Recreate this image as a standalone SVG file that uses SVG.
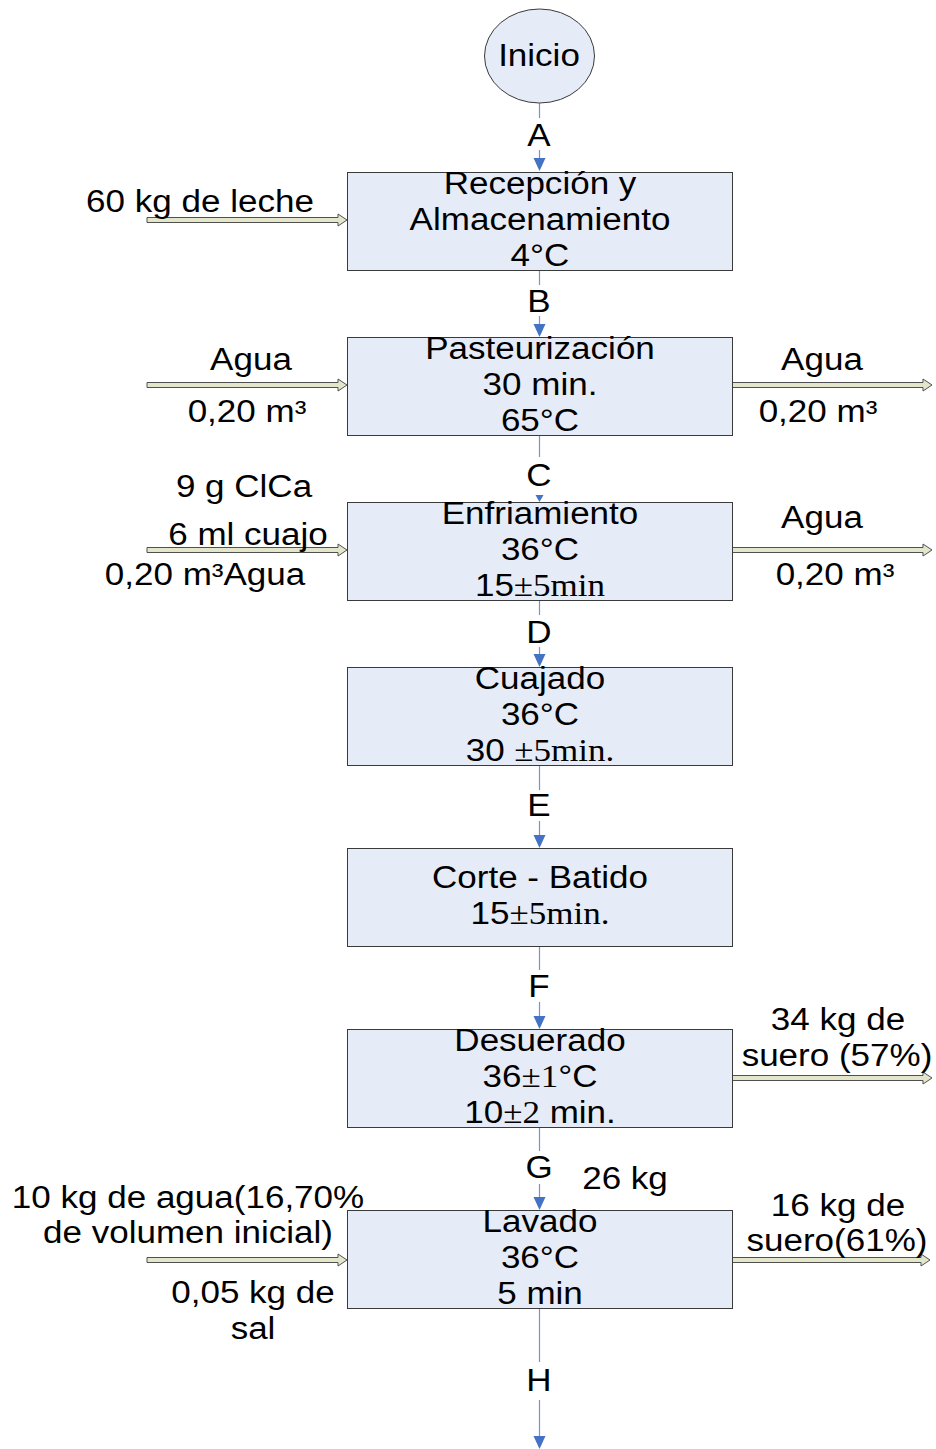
<svg xmlns="http://www.w3.org/2000/svg" width="936" height="1449" viewBox="0 0 936 1449">
<style>
.box{fill:#E6ECF7;stroke:#3a3a3a;stroke-width:1}
.t{font-family:"Liberation Sans",Arial,sans-serif;font-size:31px;fill:#000;text-anchor:middle}
.tl{font-family:"Liberation Sans",Arial,sans-serif;font-size:31px;fill:#000;text-anchor:start}
.s{font-family:"Liberation Serif","Times New Roman",serif}
.ln{stroke:#7095CF;stroke-width:1.2;fill:none}
.ah{fill:#4472C4}
.ba{fill:#E4E6CC;stroke:#505050;stroke-width:1}
</style>
<rect width="936" height="1449" fill="#fff"/>
<g id="connectors">
  <line class="ln" x1="539.5" y1="103" x2="539.5" y2="118"/>
  <line class="ln" x1="539.5" y1="150" x2="539.5" y2="160"/>
  <polygon class="ah" points="533.5,158 545.5,158 539.5,171"/>
  <text class="t" transform="translate(539,146) scale(1.13,1)">A</text>

  <line class="ln" x1="539.5" y1="270" x2="539.5" y2="285"/>
  <line class="ln" x1="539.5" y1="316" x2="539.5" y2="326"/>
  <polygon class="ah" points="533.5,324 545.5,324 539.5,337"/>
  <text class="t" transform="translate(539,312) scale(1.13,1)">B</text>

  <line class="ln" x1="539.5" y1="435" x2="539.5" y2="457"/>
  <polygon class="ah" points="535.5,495 543.5,495 539.5,502"/>
  <text class="t" transform="translate(539,486) scale(1.13,1)">C</text>

  <line class="ln" x1="539.5" y1="600" x2="539.5" y2="615"/>
  <line class="ln" x1="539.5" y1="647" x2="539.5" y2="656"/>
  <polygon class="ah" points="533.5,654 545.5,654 539.5,667"/>
  <text class="t" transform="translate(539,643) scale(1.13,1)">D</text>

  <line class="ln" x1="539.5" y1="765" x2="539.5" y2="790"/>
  <line class="ln" x1="539.5" y1="821" x2="539.5" y2="837"/>
  <polygon class="ah" points="533.5,835 545.5,835 539.5,848"/>
  <text class="t" transform="translate(539,816) scale(1.13,1)">E</text>

  <line class="ln" x1="539.5" y1="946" x2="539.5" y2="970"/>
  <line class="ln" x1="539.5" y1="1002" x2="539.5" y2="1018"/>
  <polygon class="ah" points="533.5,1016 545.5,1016 539.5,1029"/>
  <text class="t" transform="translate(539,997) scale(1.13,1)">F</text>

  <line class="ln" x1="539.5" y1="1127" x2="539.5" y2="1151"/>
  <line class="ln" x1="539.5" y1="1184" x2="539.5" y2="1199"/>
  <polygon class="ah" points="533.5,1197 545.5,1197 539.5,1210"/>
  <text class="t" transform="translate(539,1178) scale(1.13,1)">G</text>

  <line class="ln" x1="539.5" y1="1308" x2="539.5" y2="1362"/>
  <line class="ln" x1="539.5" y1="1400" x2="539.5" y2="1438"/>
  <polygon class="ah" points="533.5,1436 545.5,1436 539.5,1449"/>
  <text class="t" transform="translate(539,1391) scale(1.13,1)">H</text>

  <polygon class="ba" points="147,217.5 338,217.5 338,214 347,220 338,226 338,222.5 147,222.5"/>
  <polygon class="ba" points="147,382.5 338,382.5 338,379 347,385 338,391 338,387.5 147,387.5"/>
  <polygon class="ba" points="732,382.5 923,382.5 923,379 932,385 923,391 923,387.5 732,387.5"/>
  <polygon class="ba" points="147,547.5 338,547.5 338,544 347,550 338,556 338,552.5 147,552.5"/>
  <polygon class="ba" points="732,547.5 923,547.5 923,544 932,550 923,556 923,552.5 732,552.5"/>
  <polygon class="ba" points="732,1075.5 923,1075.5 923,1072 932,1078 923,1084 923,1080.5 732,1080.5"/>
  <polygon class="ba" points="147,1257.5 338,1257.5 338,1254 347,1260 338,1266 338,1262.5 147,1262.5"/>
  <polygon class="ba" points="730,1257.5 921,1257.5 921,1254 930,1260 921,1266 921,1262.5 730,1262.5"/>
</g>
<g id="inicio">
  <ellipse class="box" cx="539.5" cy="56" rx="55" ry="47"/>
  <text class="t" transform="translate(539,66) scale(1.13,1)">Inicio</text>
</g>
<g id="recepcion">
  <rect class="box" x="347.5" y="172.5" width="385" height="98"/>
  <text class="t" transform="translate(540,194) scale(1.13,1)">Recepción y</text>
  <text class="t" transform="translate(540,230) scale(1.13,1)">Almacenamiento</text>
  <text class="t" transform="translate(540,266) scale(1.13,1)">4°C</text>
</g>
<g id="pasteurizacion">
  <rect class="box" x="347.5" y="337.5" width="385" height="98"/>
  <text class="t" transform="translate(540,359) scale(1.13,1)">Pasteurización</text>
  <text class="t" transform="translate(540,395) scale(1.13,1)">30 min.</text>
  <text class="t" transform="translate(540,431) scale(1.13,1)">65°C</text>
</g>
<g id="enfriamiento">
  <rect class="box" x="347.5" y="502.5" width="385" height="98"/>
  <text class="t" transform="translate(540,524) scale(1.13,1)">Enfriamiento</text>
  <text class="t" transform="translate(540,560) scale(1.13,1)">36°C</text>
  <text class="t" transform="translate(540,596) scale(1.13,1)">15<tspan class="s">±5min</tspan></text>
</g>
<g id="cuajado">
  <rect class="box" x="347.5" y="667.5" width="385" height="98"/>
  <text class="t" transform="translate(540,689) scale(1.13,1)">Cuajado</text>
  <text class="t" transform="translate(540,725) scale(1.13,1)">36°C</text>
  <text class="t" transform="translate(540,761) scale(1.13,1)">30 <tspan class="s">±5min.</tspan></text>
</g>
<g id="corte">
  <rect class="box" x="347.5" y="848.5" width="385" height="98"/>
  <text class="t" transform="translate(540,888) scale(1.13,1)">Corte - Batido</text>
  <text class="t" transform="translate(540,924) scale(1.13,1)">15<tspan class="s">±5min.</tspan></text>
</g>
<g id="desuerado">
  <rect class="box" x="347.5" y="1029.5" width="385" height="98"/>
  <text class="t" transform="translate(540,1051) scale(1.13,1)">Desuerado</text>
  <text class="t" transform="translate(540,1087) scale(1.13,1)">36<tspan class="s">±1</tspan>°C</text>
  <text class="t" transform="translate(540,1123) scale(1.13,1)">10<tspan class="s">±2</tspan> min.</text>
</g>
<g id="lavado">
  <rect class="box" x="347.5" y="1210.5" width="385" height="98"/>
  <text class="t" transform="translate(540,1232) scale(1.13,1)">Lavado</text>
  <text class="t" transform="translate(540,1268) scale(1.13,1)">36°C</text>
  <text class="t" transform="translate(540,1304) scale(1.13,1)">5 min</text>
</g>
<g id="labels">
  <text class="t" transform="translate(200,212) scale(1.13,1)">60 kg de leche</text>
  <text class="t" transform="translate(251,370) scale(1.13,1)">Agua</text>
  <text class="t" transform="translate(247,422) scale(1.13,1)">0,20 m³</text>
  <text class="t" transform="translate(822,370) scale(1.13,1)">Agua</text>
  <text class="t" transform="translate(818,422) scale(1.13,1)">0,20 m³</text>
  <text class="t" transform="translate(244,497) scale(1.13,1)">9 g ClCa</text>
  <text class="t" transform="translate(248,545) scale(1.13,1)">6 ml cuajo</text>
  <text class="t" transform="translate(205,585) scale(1.13,1)">0,20 m³Agua</text>
  <text class="t" transform="translate(822,528) scale(1.13,1)">Agua</text>
  <text class="t" transform="translate(835,585) scale(1.13,1)">0,20 m³</text>
  <text class="t" transform="translate(838,1030) scale(1.13,1)">34 kg de</text>
  <text class="t" transform="translate(837,1066) scale(1.13,1)">suero (57%)</text>
  <text class="t" transform="translate(625,1189) scale(1.13,1)">26 kg</text>
  <text class="t" transform="translate(188,1208) scale(1.13,1)">10 kg de agua(16,70%</text>
  <text class="t" transform="translate(188,1243) scale(1.13,1)">de volumen inicial)</text>
  <text class="t" transform="translate(253,1303) scale(1.13,1)">0,05 kg de</text>
  <text class="t" transform="translate(253,1339) scale(1.13,1)">sal</text>
  <text class="t" transform="translate(838,1216) scale(1.13,1)">16 kg de</text>
  <text class="t" transform="translate(837,1251) scale(1.13,1)">suero(61%)</text>
</g>
</svg>
